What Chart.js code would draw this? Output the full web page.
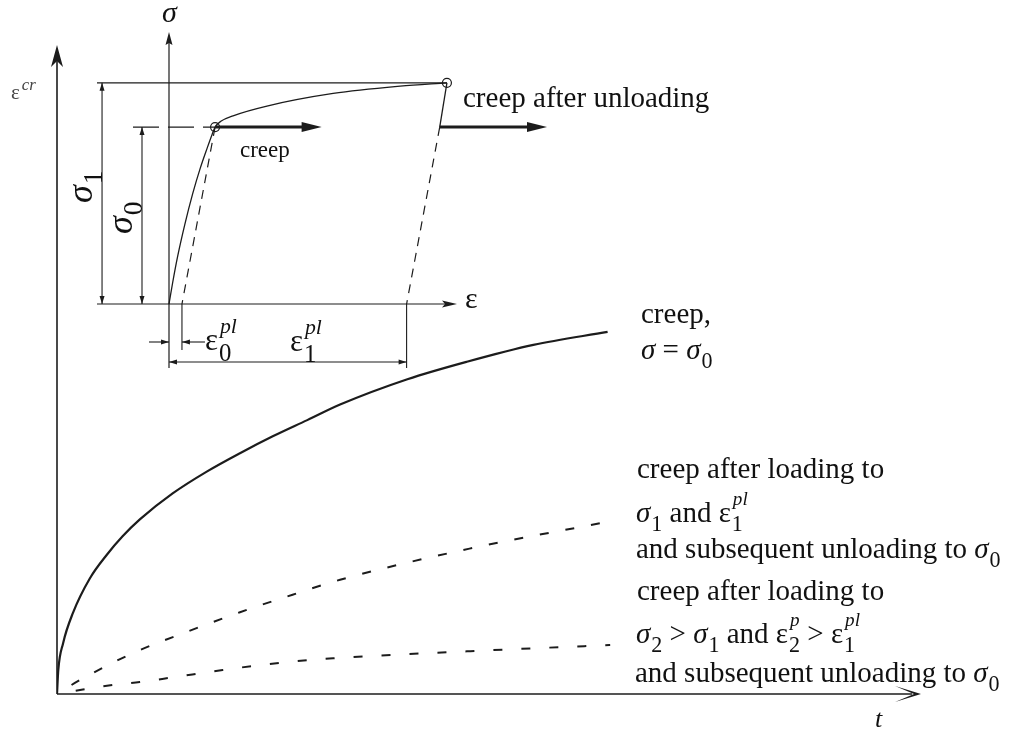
<!DOCTYPE html>
<html>
<head>
<meta charset="utf-8">
<script src="https://cdn.jsdelivr.net/npm/chart.js@4.4.1/dist/chart.umd.min.js"></script>
<style>
  html, body { margin: 0; padding: 0; background: #fff; }
  #wrap { position: relative; width: 1018px; height: 731px; }
  #wrap canvas { position: absolute; left: 0; top: 0; }
</style>
</head>
<body>
<div id="wrap">
  <canvas id="main" width="1018" height="731"></canvas>
  <canvas id="inset" width="1018" height="731"></canvas>
</div>
<script>
// ---- creep strain vs. time (arbitrary units) ----
// creep at constant stress sigma = sigma0
const creepT   = [0, 0.15, 0.7, 1.85, 3.8, 5.8, 7.6, 9.6, 13.4, 17.4, 21.2, 25.0, 29.0, 32.8, 40.6, 47.5, 55.2, 63.8];
const creepEps = [0, 3.7, 7.8, 12.5, 17.8, 21.5, 24.3, 26.9, 30.9, 34.3, 37.1, 39.7, 42.2, 44.6, 48.5, 51.2, 53.8, 55.8];
// creep after loading to sigma1 and unloading to sigma0
const unload1T   = [0, 2.67, 8.8, 15.1, 21.2, 27.3, 32.8, 47.8, 63.7];
const unload1Eps = [0, 2.16, 6.3, 9.6, 12.6, 15.3, 17.6, 22.4, 26.5];
// creep after loading to sigma2 > sigma1 and unloading to sigma0
const unload2T   = [0, 3.0, 6.5, 9.6, 13.1, 19.2, 25.8, 32.0, 47.9, 64.1];
const unload2Eps = [0, 0.7, 1.4, 1.85, 2.5, 3.7, 4.8, 5.5, 6.6, 7.55];

// ---- stress-strain diagram (normalised: sigma1 = 1) ----
const loadEps = [0, 0.05, 0.12, 0.22, 0.33, 0.43, 0.53, 0.60, 0.64, 0.72, 0.89, 1.36, 2.28, 3.21, 3.86];
const loadSig = [0, 0.095, 0.215, 0.36, 0.50, 0.61, 0.705, 0.768, 0.80, 0.826, 0.851, 0.895, 0.952, 0.985, 1.0];
const sigma0 = 0.8;          // creep stress
const sigma1 = 1.0;          // maximum stress before unloading
const epsAtSigma0 = 0.64;    // strain where sigma0 is reached
const epsAtSigma1 = 3.86;    // strain where sigma1 is reached
const epsUnloadS0 = 3.76;    // strain after elastic unloading from sigma1 to sigma0
const eps0pl = 0.18;         // plastic strain after loading to sigma0
const eps1pl = 3.3;          // plastic strain after loading to sigma1
const creepArrowEnds = [2.12, 5.25];

const INK = '#1c1c1c';
const SERIF = '"Liberation Serif", "Times New Roman", serif';

function pts(xs, ys) { return xs.map((x, i) => ({ x: x, y: ys[i] })); }

function head(ctx, x, y, ang, len, half, indent) {
  ctx.save();
  ctx.translate(x, y);
  ctx.rotate(ang);
  ctx.beginPath();
  ctx.moveTo(0, 0);
  ctx.lineTo(-len, -half);
  ctx.lineTo(-len + indent, 0);
  ctx.lineTo(-len, half);
  ctx.closePath();
  ctx.fill();
  ctx.restore();
}

function line(ctx, x1, y1, x2, y2, w, dash) {
  ctx.save();
  ctx.lineWidth = w;
  ctx.setLineDash(dash || []);
  ctx.beginPath();
  ctx.moveTo(x1, y1);
  ctx.lineTo(x2, y2);
  ctx.stroke();
  ctx.restore();
}

// rich text: parts are strings or {t, it, sub, sup}
function rich(ctx, x, y, parts, s, opt) {
  opt = opt || {};
  const subS = s * (opt.subScale || 0.76), supS = s * (opt.supScale || 0.66);
  const subDy = s * (opt.subDy || 0.3), supDy = s * (opt.supDy || 0.58);
  let cx = x;
  ctx.textBaseline = 'alphabetic';
  ctx.textAlign = 'left';
  for (const p of parts) {
    const o = typeof p === 'string' ? { t: p } : p;
    if (o.t) {
      ctx.font = (o.it ? 'italic ' : '') + s + 'px ' + SERIF;
      ctx.fillText(o.t, cx, y);
      cx += ctx.measureText(o.t).width;
    }
    let w = 0;
    if (o.sub) {
      ctx.font = subS + 'px ' + SERIF;
      ctx.fillText(o.sub, cx + 1, y + subDy);
      w = Math.max(w, ctx.measureText(o.sub).width + 1);
    }
    if (o.sup) {
      ctx.font = 'italic ' + supS + 'px ' + SERIF;
      ctx.fillText(o.sup, cx + 2, y - supDy);
      w = Math.max(w, ctx.measureText(o.sup).width + 2);
    }
    cx += w;
  }
  return cx;
}

// axes, arrows and labels of the creep diagram
const mainDecor = {
  id: 'mainDecor',
  afterDraw(chart) {
    const ctx = chart.ctx, xs = chart.scales.x, ys = chart.scales.y, a = chart.chartArea;
    const ox = xs.getPixelForValue(0), oy = ys.getPixelForValue(0);
    ctx.save();
    ctx.strokeStyle = INK;
    ctx.fillStyle = INK;
    // epsilon^cr axis
    line(ctx, ox, oy, ox, a.top + 10, 1.6);
    head(ctx, ox, a.top, -Math.PI / 2, 22, 6, 6);
    // time axis
    line(ctx, ox, oy, a.right - 8, oy, 1.6);
    head(ctx, a.right + 1, oy, 0, 26, 8, 19);

    ctx.fillStyle = '#111';
    const s = 29;
    rich(ctx, 641, 323, ['creep,'], s);
    rich(ctx, 641, 359, [{ t: 'σ', it: true }, ' = ', { t: 'σ', it: true, sub: '0' }], s);
    rich(ctx, 637, 478, ['creep after loading to'], s);
    rich(ctx, 636, 522, [{ t: 'σ', it: true, sub: '1' }, ' and ', { t: 'ε', sub: '1', sup: 'pl' }], s);
    rich(ctx, 636, 558, ['and subsequent unloading to ', { t: 'σ', it: true, sub: '0' }], s);
    rich(ctx, 637, 600, ['creep after loading to'], s);
    rich(ctx, 636, 643, [{ t: 'σ', it: true, sub: '2' }, ' > ', { t: 'σ', it: true, sub: '1' }, ' and ',
                         { t: 'ε', sub: '2', sup: 'p' }, ' > ', { t: 'ε', sub: '1', sup: 'pl' }], s);
    rich(ctx, 635, 682, ['and subsequent unloading to ', { t: 'σ', it: true, sub: '0' }], s);
    rich(ctx, 875, 727, [{ t: 't', it: true }], 26);
    ctx.fillStyle = '#444';
    rich(ctx, 11, 99, [{ t: 'ε', sup: 'cr' }], 21, { supScale: 0.8, supDy: 0.45 });
    ctx.restore();
  }
};

// axes, dimension lines and labels of the stress-strain diagram
const insetDecor = {
  id: 'insetDecor',
  afterDraw(chart) {
    const ctx = chart.ctx, xs = chart.scales.x, ys = chart.scales.y, a = chart.chartArea;
    const px = v => xs.getPixelForValue(v), py = v => ys.getPixelForValue(v);
    const x0 = px(0), y0 = py(0), yS0 = py(sigma0), yS1 = py(sigma1);
    ctx.save();
    ctx.strokeStyle = INK;
    ctx.fillStyle = INK;
    // strain axis
    line(ctx, a.left, y0, a.right - 6, y0, 1.2);
    head(ctx, a.right, y0, 0, 15, 3.5, 3);
    // stress axis, extended downward as a dimension witness line
    line(ctx, x0, y0 + 64, x0, a.top + 6, 1.2);
    head(ctx, x0, a.top, -Math.PI / 2, 13, 3.5, 2);

    // sigma1 dimension
    const d1 = px(-0.93), d0 = px(-0.375);
    line(ctx, d1, yS1, d1, y0, 1.1);
    head(ctx, d1, yS1, -Math.PI / 2, 8, 2.5, 0);
    head(ctx, d1, y0, Math.PI / 2, 8, 2.5, 0);
    // sigma0 dimension
    line(ctx, d0, yS0, d0, y0, 1.1);
    head(ctx, d0, yS0, -Math.PI / 2, 8, 2.5, 0);
    head(ctx, d0, y0, Math.PI / 2, 8, 2.5, 0);

    // plastic strain witness lines
    const e0 = px(eps0pl), e1 = px(eps1pl);
    line(ctx, e0, y0, e0, y0 + 46, 1.1);
    line(ctx, e1, y0, e1, y0 + 64, 1.1);
    // eps0^pl dimension (arrows from outside)
    const yd0 = y0 + 38;
    line(ctx, x0 - 20, yd0, x0, yd0, 1.1);
    head(ctx, x0, yd0, 0, 8, 2.5, 0);
    line(ctx, e0 + 23, yd0, e0, yd0, 1.1);
    head(ctx, e0, yd0, Math.PI, 8, 2.5, 0);
    // eps1^pl dimension
    const yd1 = y0 + 58;
    line(ctx, x0, yd1, e1, yd1, 1.1);
    head(ctx, x0, yd1, Math.PI, 8, 2.5, 0);
    head(ctx, e1, yd1, 0, 8, 2.5, 0);

    // creep arrows at sigma0
    line(ctx, px(epsAtSigma0), yS0, px(creepArrowEnds[0]) - 12, yS0, 3);
    head(ctx, px(creepArrowEnds[0]), yS0, 0, 20, 5, 0);
    line(ctx, px(epsUnloadS0), yS0, px(creepArrowEnds[1]) - 12, yS0, 3);
    head(ctx, px(creepArrowEnds[1]), yS0, 0, 20, 5, 0);

    // labels
    ctx.fillStyle = '#111';
    rich(ctx, 162, 22, [{ t: 'σ', it: true }], 30);
    rich(ctx, 465, 308, ['ε'], 30);
    rich(ctx, 240, 157, ['creep'], 23);
    rich(ctx, 463, 107, ['creep after unloading'], 29);
    rich(ctx, 205, 350, [{ t: 'ε', sub: '0', sup: 'pl' }], 31, { subScale: 0.8, subDy: 0.36, supScale: 0.7, supDy: 0.55 });
    rich(ctx, 290, 351, [{ t: 'ε', sub: '1', sup: 'pl' }], 31, { subScale: 0.8, subDy: 0.36, supScale: 0.7, supDy: 0.55 });
    // rotated stress labels
    ctx.save();
    ctx.translate(92, 203);
    ctx.rotate(-Math.PI / 2);
    rich(ctx, 0, 0, [{ t: 'σ', it: true, sub: '1' }], 36, { subDy: 0.28 });
    ctx.restore();
    ctx.save();
    ctx.translate(132, 234);
    ctx.rotate(-Math.PI / 2);
    rich(ctx, 0, 0, [{ t: 'σ', it: true, sub: '0' }], 36, { subDy: 0.28 });
    ctx.restore();
    ctx.restore();
  }
};

const common = {
  responsive: false,
  animation: false,
  events: [],
  plugins: { legend: { display: false }, tooltip: { enabled: false } },
  elements: { point: { radius: 0 }, line: { fill: false } }
};

new Chart(document.getElementById('main'), {
  type: 'line',
  data: {
    datasets: [
      { data: pts(creepT, creepEps), borderColor: INK, borderWidth: 2.2, cubicInterpolationMode: 'monotone' },
      { data: pts(unload1T, unload1Eps), borderColor: INK, borderWidth: 2, borderDash: [9, 17], borderDashOffset: 9, cubicInterpolationMode: 'monotone' },
      { data: pts(unload2T, unload2Eps), borderColor: INK, borderWidth: 2, borderDash: [9, 19], borderDashOffset: 9, cubicInterpolationMode: 'monotone' }
    ]
  },
  options: Object.assign({}, common, {
    layout: { padding: { left: 57, top: 45, right: 98, bottom: 37 } },
    scales: {
      x: { type: 'linear', min: 0, max: 100, display: false },
      y: { type: 'linear', min: 0, max: 100, display: false }
    }
  }),
  plugins: [mainDecor]
});

new Chart(document.getElementById('inset'), {
  type: 'line',
  data: {
    datasets: [
      { data: pts(loadEps, loadSig), borderColor: INK, borderWidth: 1.3, cubicInterpolationMode: 'monotone' },
      { data: [{ x: -1, y: sigma1 }, { x: epsAtSigma1, y: sigma1 }], borderColor: INK, borderWidth: 1.2 },
      { data: [{ x: -0.5, y: sigma0 }, { x: epsAtSigma0, y: sigma0 }], borderColor: INK, borderWidth: 1.2, borderDash: [26, 9] },
      { data: [{ x: epsAtSigma0, y: sigma0 }, { x: eps0pl, y: 0 }], borderColor: INK, borderWidth: 1.2, borderDash: [9, 7] },
      { data: [{ x: epsAtSigma1, y: sigma1 }, { x: epsUnloadS0, y: sigma0 }], borderColor: INK, borderWidth: 1.3 },
      { data: [{ x: epsUnloadS0, y: sigma0 }, { x: eps1pl, y: 0 }], borderColor: INK, borderWidth: 1.2, borderDash: [9, 7] },
      { data: [{ x: epsAtSigma0, y: sigma0 }, { x: epsAtSigma1, y: sigma1 }], showLine: false,
        pointRadius: 4.5, pointBorderWidth: 1.2, pointBorderColor: INK, pointBackgroundColor: '#fff' }
    ]
  },
  options: Object.assign({}, common, {
    layout: { padding: { left: 97, top: 32, right: 561, bottom: 427 } },
    scales: {
      x: { type: 'linear', min: -1, max: 4, display: false },
      y: { type: 'linear', min: 0, max: 1.23, display: false }
    }
  }),
  plugins: [insetDecor]
});
</script>
</body>
</html>
